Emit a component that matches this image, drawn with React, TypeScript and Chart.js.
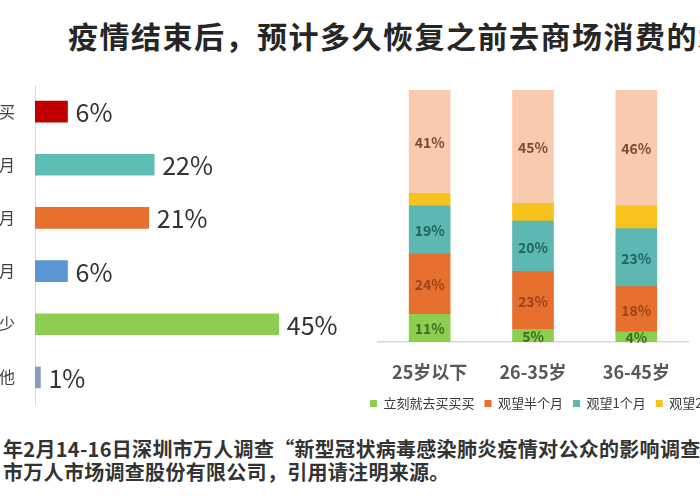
import { useEffect, useRef } from "react";
import { Chart, registerables } from "chart.js";

Chart.register(...registerables);

const FONT = "'Noto Sans CJK SC', 'Noto Sans', sans-serif";

const titleText = "疫情结束后，预计多久恢复之前去商场消费的水平";

// overall answers (left bars)
const overallLabels = ["立刻就去买买买", "观望半个月", "观望1个月", "观望2个月", "尽量减少", "其他"];
const overallValues = [6, 22, 21, 6, 45, 1];
const overallColors = ["#C00000", "#5EBDB3", "#E8702F", "#5B96D2", "#8DCD50", "#8A9CB6"];

// by age group (right stacked columns)
const ageGroups = ["25岁以下", "26-35岁", "36-45岁"];
const seriesNames = ["立刻就去买买买", "观望半个月", "观望1个月", "观望2个月", "尽量减少"];
const immediateValues = [11, 5, 4];
const halfMonthValues = [24, 23, 18];
const oneMonthValues = [19, 20, 23];
const twoMonthValues = [5, 7, 9];
const reduceValues = [41, 45, 46];
const seriesColors = ["#8DCD50", "#E8702F", "#5DB8B2", "#F8C21C", "#F9CBAE"];
// text colour of the % inside each segment (null = no label)
const segmentTextColors = ["#3F6B22", "#9C4219", "#1E6460", null, "#7A4A30"];

const footerLine1Hidden = "数据来源：2020";
const footerLine1 = "年2月14-16日深圳市万人调查“新型冠状病毒感染肺炎疫情对公众的影响调查”";
const footerLine2Hidden = "数据版权：深圳";
const footerLine2 = "市万人市场调查股份有限公司，引用请注明来源。";

// draws "xx%" to the right of each horizontal bar
const barEndLabels = {
  id: "barEndLabels",
  afterDatasetsDraw(chart: any) {
    const { ctx } = chart;
    const meta = chart.getDatasetMeta(0);
    ctx.save();
    ctx.font = `25px ${FONT}`;
    ctx.fillStyle = "#333333";
    ctx.textAlign = "left";
    ctx.textBaseline = "middle";
    meta.data.forEach((bar: any, i: number) => {
      ctx.fillText(`${overallValues[i]}%`, bar.x + 8, bar.y + 1);
    });
    ctx.restore();
  },
};

// draws "xx%" in the middle of each stacked segment
const segmentLabels = {
  id: "segmentLabels",
  afterDatasetsDraw(chart: any) {
    const { ctx } = chart;
    ctx.save();
    ctx.font = `bold 14px ${FONT}`;
    ctx.textAlign = "center";
    ctx.textBaseline = "middle";
    chart.data.datasets.forEach((ds: any, di: number) => {
      const color = segmentTextColors[di];
      if (!color) return;
      chart.getDatasetMeta(di).data.forEach((bar: any, i: number) => {
        const { x, y, base } = bar.getProps(["x", "y", "base"], true);
        ctx.fillStyle = color;
        ctx.fillText(`${ds.data[i]}%`, x, (y + base) / 2 + 1);
      });
    });
    ctx.restore();
  },
};

const OverallChart = () => {
  const canvasRef = useRef<HTMLCanvasElement | null>(null);

  useEffect(() => {
    if (!canvasRef.current) return;
    const chart = new Chart(canvasRef.current, {
      type: "bar",
      data: {
        labels: overallLabels,
        datasets: [
          {
            data: overallValues,
            backgroundColor: overallColors,
            borderWidth: 0,
            barThickness: 21,
          },
        ],
      },
      options: {
        indexAxis: "y",
        animation: false,
        responsive: true,
        maintainAspectRatio: false,
        layout: { padding: { top: 5, bottom: 6, left: 0, right: 0 } },
        scales: {
          x: { display: false, min: 0, max: 60 },
          y: {
            grid: { display: false, drawTicks: false },
            border: { display: true, color: "#d9d9d9", width: 1 },
            ticks: {
              color: "#404040",
              font: { family: FONT, size: 16 },
              padding: 20,
            },
            afterFit: (scale: any) => {
              scale.width = 204;
              scale.paddingTop = 0;
              scale.paddingBottom = 0;
            },
          },
        },
        plugins: {
          legend: { display: false },
          tooltip: { enabled: false },
        },
      },
      plugins: [barEndLabels],
    });
    return () => chart.destroy();
  }, []);

  return <canvas ref={canvasRef} />;
};

const AgeChart = () => {
  const canvasRef = useRef<HTMLCanvasElement | null>(null);

  useEffect(() => {
    if (!canvasRef.current) return;
    const seriesValues = [immediateValues, halfMonthValues, oneMonthValues, twoMonthValues, reduceValues];
    const chart = new Chart(canvasRef.current, {
      type: "bar",
      data: {
        labels: ageGroups,
        datasets: seriesNames.map((name, i) => ({
          label: name,
          data: seriesValues[i],
          backgroundColor: seriesColors[i],
          borderWidth: 0,
          barThickness: 41,
        })),
      },
      options: {
        animation: false,
        responsive: true,
        maintainAspectRatio: false,
        layout: { padding: { top: 10, bottom: 0, left: 0, right: 0 } },
        scales: {
          x: {
            stacked: true,
            grid: { display: false, drawTicks: false },
            border: { display: true, color: "#d9d9d9", width: 1.5 },
            ticks: {
              color: "#595959",
              font: { family: FONT, size: 18, weight: "bold" },
              padding: 19,
            },
            afterFit: (scale: any) => {
              scale.height = 45;
              scale.paddingLeft = 18;
              scale.paddingRight = 192;
            },
          },
          y: { stacked: true, display: false, min: 0, max: 100 },
        },
        plugins: {
          legend: {
            position: "bottom",
            align: "start",
            labels: {
              boxWidth: 7,
              boxHeight: 7,
              padding: 10,
              color: "#383838",
              font: { family: FONT, size: 13 },
            },
          },
          tooltip: { enabled: false },
        },
      },
      plugins: [segmentLabels],
    });
    return () => chart.destroy();
  }, []);

  return <canvas ref={canvasRef} />;
};

export default function App() {
  return (
    <div
      style={{
        position: "fixed",
        left: 0,
        top: 0,
        width: 700,
        height: 500,
        overflow: "hidden",
        background: "#fff",
        fontFamily: FONT,
      }}
    >
      <div
        style={{
          position: "absolute",
          left: 68,
          top: 20,
          fontSize: 30,
          lineHeight: "30px",
          fontWeight: "bold",
          letterSpacing: 1.5,
          color: "#262626",
          whiteSpace: "nowrap",
        }}
      >
        {titleText}
      </div>

      <div style={{ position: "absolute", left: -169, top: 80, width: 529, height: 330 }}>
        <OverallChart />
      </div>

      <div style={{ position: "absolute", left: 360, top: 80, width: 520, height: 340 }}>
        <AgeChart />
      </div>

      <div
        style={{
          position: "absolute",
          left: 3,
          top: 437,
          fontSize: 20,
          lineHeight: "23px",
          fontWeight: "bold",
          letterSpacing: 0.3,
          color: "#333",
          whiteSpace: "nowrap",
        }}
      >
        <div style={{ position: "relative" }}>
          <span style={{ position: "absolute", right: "calc(100% + 4px)" }}>{footerLine1Hidden}</span>
          {footerLine1}
        </div>
        <div style={{ position: "relative" }}>
          <span style={{ position: "absolute", right: "calc(100% + 4px)" }}>{footerLine2Hidden}</span>
          {footerLine2}
        </div>
      </div>
    </div>
  );
}
